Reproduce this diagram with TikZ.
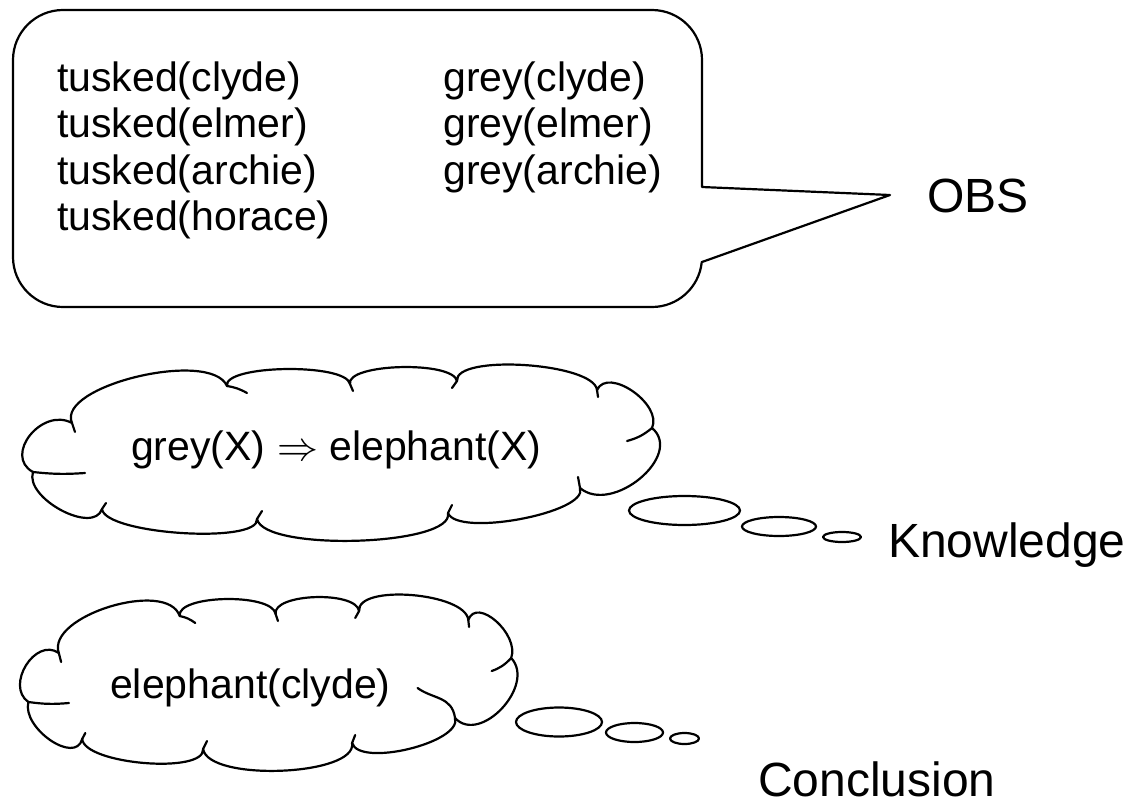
\RequirePackage{fix-cm}
\documentclass[tikz,border=0pt]{standalone}
\usepackage{fontspec}
\setmainfont{Liberation Sans}
\tikzset{
  outline/.style={line width=2.2pt, line join=round, line cap=round},
  lobe/.style={out=100, in=100, relative, looseness=#1},
  txt/.style={anchor=base west, inner sep=0pt, font=\fontsize{41}{47}\selectfont},
  lbl/.style={anchor=base west, inner sep=0pt, font=\fontsize{48}{56}\selectfont},
}
% thought cloud: eleven lobes plus the short inner strokes at the joins;
% #1 is the inner stroke at the lower right join
\newcommand{\puffcloud}[1]{%
  \draw[outline, fill=white]
    (72,423) to[lobe=0.65] (227,386) to[lobe=0.45] (350,384)
    to[lobe=0.5] (457,381) to[lobe=0.5] (597,390)
    to[lobe=1.0] (652,428) to[lobe=1.15] (580,488)
    to[lobe=0.5] (448,513) to[lobe=0.45] (257,519)
    to[lobe=0.42] (102,509) to[lobe=0.9] (33,472)
    to[lobe=1.4] (72,423) -- cycle;
  \draw[outline] (72,423) -- (75,432);
  \draw[outline] (227,386) to[bend left=10] (247,393);
  \draw[outline] (350,384) -- (353,391);
  \draw[outline] (457,381) -- (452,388);
  \draw[outline] (597,390) -- (598,397);
  \draw[outline] (652,428) to[bend left=12] (627,441);
  \draw[outline] (580,488) #1;
  \draw[outline] (448,513) -- (452,505);
  \draw[outline] (257,519) -- (262,511);
  \draw[outline] (102,509) -- (106,503);
  \draw[outline] (33,472) to[bend right=5] (85,473);
}
\begin{document}
\begin{tikzpicture}[x=1pt, y=-1pt]
  \useasboundingbox (0,0) rectangle (1129,808);

  % speech callout holding the observations
  \draw[outline]
    (702,262) -- (890,195) -- (702,187) -- (702,60)
    arc[start angle=0, end angle=-90, radius=50]
    -- (63,10)
    arc[start angle=-90, end angle=-180, radius=50]
    -- (13,257)
    arc[start angle=180, end angle=90, radius=50]
    -- (652,307)
    arc[start angle=90, end angle=6, radius=50]
    -- cycle;

  \node[txt] (t1) at (57,91)    {tusked(clyde)};
  \node[txt] (t2) at (57,137.5) {tusked(elmer)};
  \node[txt] (t3) at (57,184)   {tusked(archie)};
  \node[txt] (t4) at (57,230.5) {tusked(horace)};
  \node[txt] (g1) at (443,91)    {grey(clyde)};
  \node[txt] (g2) at (443,137.5) {grey(elmer)};
  \node[txt] (g3) at (443,184)   {grey(archie)};
  \node[lbl] (obs) at (927,212) {OBS};

  % knowledge cloud
  \puffcloud{-- (578,477)}
  \node[txt] (rule) at (131,460) {grey(X) $\Rightarrow$ elephant(X)};
  \draw[outline] (684.5,510.5) ellipse[x radius=55.5, y radius=14.5];
  \draw[outline] (779,526.5) ellipse[x radius=37, y radius=9.5];
  \draw[outline] (842,537) ellipse[x radius=19, y radius=5];
  \node[lbl] (know) at (888,557) {Knowledge};

  % conclusion cloud, a narrower copy of the same outline
  \begin{scope}[shift={(12,230)}, xscale=0.78, shift={(-12,0)}]
    \puffcloud{to[out=100, in=-30] (532,458)}
  \end{scope}
  \node[txt] (concl) at (110,698) {elephant(clyde)};
  \draw[outline] (559,722) ellipse[x radius=43, y radius=14.5];
  \draw[outline] (634.5,732.5) ellipse[x radius=28.5, y radius=9.5];
  \draw[outline] (684.5,738.5) ellipse[x radius=14.5, y radius=5.5];
  \node[lbl] (conc) at (758,796) {Conclusion};
\end{tikzpicture}
\end{document}
